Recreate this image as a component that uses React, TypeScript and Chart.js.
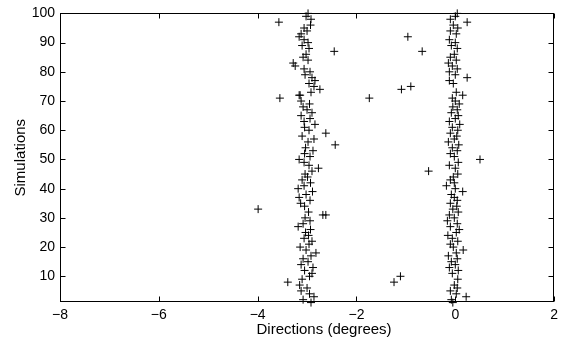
import { useEffect, useRef } from "react";
import { Chart, registerables } from "chart.js";

Chart.register(...registerables);

const simulations = [
  1, 2, 3, 4, 5, 6, 7, 8, 9, 10,
  11, 12, 13, 14, 15, 16, 17, 18, 19, 20,
  21, 22, 23, 24, 25, 26, 27, 28, 29, 30,
  31, 32, 33, 34, 35, 36, 37, 38, 39, 40,
  41, 42, 43, 44, 45, 46, 47, 48, 49, 50,
  51, 52, 53, 54, 55, 56, 57, 58, 59, 60,
  61, 62, 63, 64, 65, 66, 67, 68, 69, 70,
  71, 72, 73, 74, 75, 76, 77, 78, 79, 80,
  81, 82, 83, 84, 85, 86, 87, 88, 89, 90,
  91, 92, 93, 94, 95, 96, 97, 98, 99, 100,
];

const leftDirections = [
  -2.92, -3.08, -2.86, -2.95, -3.12, -3.0, -3.15, -3.39, -3.1, -2.95,
  -2.9, -3.05, -2.88, -3.12, -2.98, -3.08, -2.92, -2.82, -3.02, -3.14,
  -2.96, -2.9, -3.06, -2.97, -3.03, -2.93, -3.18, -3.08, -2.94, -3.04,
  -2.68, -2.97, -3.99, -3.05, -3.13, -2.94, -3.16, -3.02, -2.89, -3.18,
  -3.06, -2.93, -3.1, -2.99, -3.04, -2.9, -2.77, -2.96, -3.06, -3.16,
  -2.94, -3.05, -2.88, -3.03, -2.43, -2.98, -2.86, -3.1, -2.62, -2.96,
  -3.05, -2.84, -3.06, -2.94, -3.12, -2.9, -3.0, -3.08, -2.95, -3.12,
  -3.55, -3.16, -2.92, -2.74, -2.86, -2.96, -2.84, -2.9, -3.04, -2.94,
  -3.06, -3.24, -3.28, -2.98, -3.08, -3.02, -2.45, -2.96, -3.1, -2.98,
  -3.06, -3.16, -3.12, -3.0, -3.06, -2.93, -3.57, -2.92, -3.02, -2.98,
];

const rightDirections = [
  -0.05, -0.08, 0.22, 0.02, -0.1, 0.04, -0.02, -1.24, 0.05, -1.11,
  -0.06, 0.06, -0.12, 0.0, -0.08, 0.04, -0.14, 0.02, 0.16, -0.04,
  -0.1, 0.05, -0.06, -0.15, 0.02, 0.08, -0.1, 0.04, -0.16, -0.02,
  -0.12, 0.06, -0.05, 0.03, -0.1, 0.04, -0.02, -0.08, 0.15, 0.0,
  -0.18, -0.02, -0.1, -0.04, 0.05, -0.54, 0.0, -0.12, 0.06, 0.5,
  -0.02, -0.1, 0.04, -0.06, 0.07, -0.14, -0.02, 0.03, -0.1, 0.05,
  -0.06, 0.09, -0.12, 0.0, 0.06, -0.08, 0.04, -0.05, 0.08, 0.0,
  -1.74, 0.15, 0.02, -1.09, -0.9, -0.04, -0.12, 0.24, 0.0, -0.12,
  0.04, -0.06, -0.14, 0.02, -0.1, -0.02, -0.67, 0.04, -0.08, 0.0,
  -0.12, -0.96, 0.02, -0.1, 0.05, -0.04, 0.24, -0.1, 0.0, 0.04,
];

const extraDirections = [-2.62, -3.14, -0.06];
const extraSimulations = [31, 72, 71];

const xTicks = [-8, -6, -4, -2, 0, 2];
const yTicks = [10, 20, 30, 40, 50, 60, 70, 80, 90, 100];

const xTitle = "Directions (degrees)";
const yTitle = "Simulations";

const FONT = "'Liberation Sans', Arial, Helvetica, sans-serif";

const boxPlugin = {
  id: "matlabBox",
  afterDraw(chart: any) {
    const { ctx, chartArea: a, scales } = chart;
    ctx.save();
    ctx.strokeStyle = "#000";
    ctx.lineWidth = 1;
    const L = Math.round(a.left) + 0.5;
    const R = Math.round(a.right) - 0.5;
    const T = Math.round(a.top) + 0.5;
    const B = Math.round(a.bottom) - 0.5;
    ctx.strokeRect(L, T, R - L, B - T);
    ctx.beginPath();
    for (const t of scales.x.ticks) {
      const x = Math.round(scales.x.getPixelForValue(t.value)) + 0.5;
      ctx.moveTo(x, B);
      ctx.lineTo(x, B - 5);
      ctx.moveTo(x, T);
      ctx.lineTo(x, T + 5);
    }
    for (const t of scales.y.ticks) {
      const y = Math.round(scales.y.getPixelForValue(t.value)) + 0.5;
      ctx.moveTo(L, y);
      ctx.lineTo(L + 5, y);
      ctx.moveTo(R, y);
      ctx.lineTo(R - 5, y);
    }
    ctx.stroke();
    // x axis title (placed slightly right of centre as in the reference)
    ctx.fillStyle = "#000";
    ctx.font = `15px ${FONT}`;
    ctx.textAlign = "center";
    ctx.textBaseline = "middle";
    ctx.fillText(xTitle, (a.left + a.right) / 2 + 17, 330);
    ctx.restore();
  },
};

export default function App() {
  const ref = useRef<HTMLCanvasElement | null>(null);

  useEffect(() => {
    if (!ref.current) return;
    const pointStyle = {
      pointStyle: "cross" as const,
      pointRadius: 4,
      pointHoverRadius: 4,
      pointBorderWidth: 1,
      borderColor: "#000",
      backgroundColor: "#000",
      showLine: false,
    };
    const chart = new Chart(ref.current, {
      type: "scatter",
      data: {
        datasets: [
          {
            ...pointStyle,
            data: simulations.map((s, i) => ({ x: leftDirections[i], y: s })),
          },
          {
            ...pointStyle,
            data: simulations.map((s, i) => ({ x: rightDirections[i], y: s })),
          },
          {
            ...pointStyle,
            data: extraSimulations.map((s, i) => ({ x: extraDirections[i], y: s })),
          },
        ],
      },
      options: {
        animation: false,
        responsive: false,
        clip: false as any,
        layout: { padding: { left: 0, right: 6, top: 13, bottom: 0 } },
        plugins: {
          legend: { display: false },
          tooltip: { enabled: false },
        },
        scales: {
          x: {
            type: "linear",
            min: -8,
            max: 2,
            afterBuildTicks: (s: any) => {
              s.ticks = xTicks.map((v) => ({ value: v }));
            },
            afterFit: (s: any) => {
              s.height = 45;
            },
            grid: { display: false, drawTicks: false },
            border: { display: false },
            ticks: {
              color: "#000",
              padding: 5,
              maxRotation: 0,
              font: { family: FONT, size: 14 },
              callback: (v: any) => (Number(v) < 0 ? "\u2212" + Math.abs(Number(v)) : String(v)),
            },
            title: { display: false },
          },
          y: {
            type: "linear",
            min: 1.2,
            max: 100,
            afterBuildTicks: (s: any) => {
              s.ticks = yTicks.map((v) => ({ value: v }));
            },
            afterFit: (s: any) => {
              s.width = 60;
            },
            grid: { display: false, drawTicks: false },
            border: { display: false },
            ticks: {
              color: "#000",
              padding: 5,
              font: { family: FONT, size: 14 },
            },
            title: {
              display: true,
              text: yTitle,
              color: "#000",
              font: { family: FONT, size: 15 },
              padding: { top: 12, bottom: 0 },
            },
          },
        },
      },
      plugins: [boxPlugin],
    });
    return () => chart.destroy();
  }, []);

  return (
    <div style={{ position: "fixed", left: 0, top: 0, width: 563, height: 347, background: "#fff" }}>
      <canvas ref={ref} width={563} height={347} style={{ display: "block" }} />
    </div>
  );
}
